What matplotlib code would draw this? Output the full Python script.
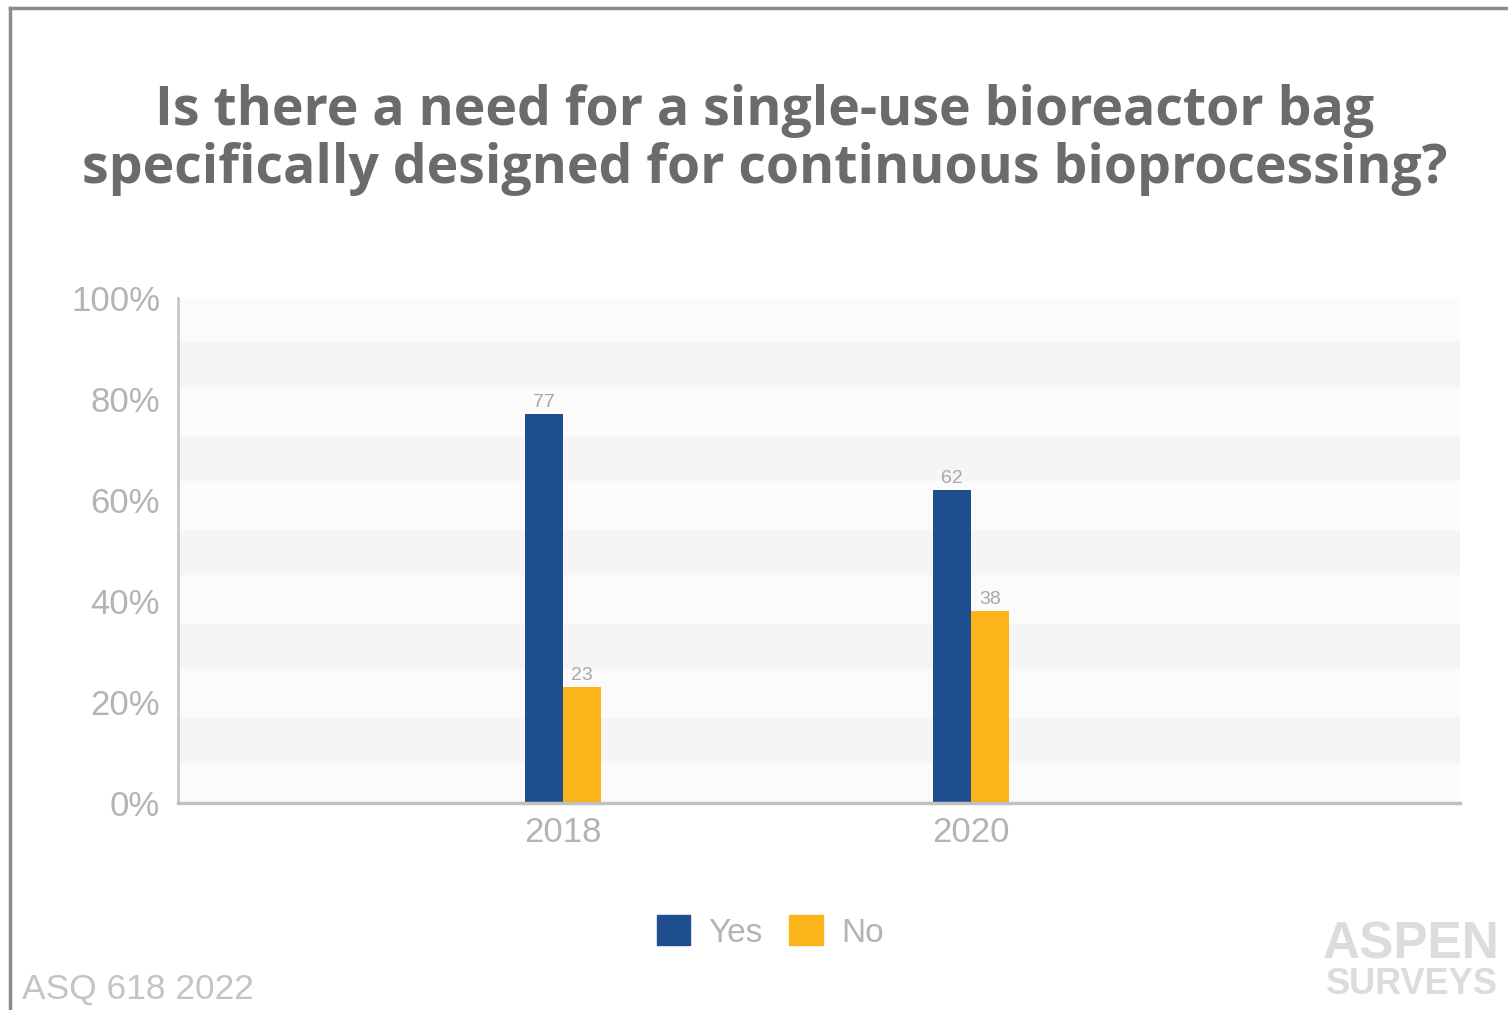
import numpy as np
import matplotlib.pyplot as plt
from matplotlib.patches import Patch
from matplotlib.lines import Line2D

# Survey answers, percent
years = ["2018", "2020"]
yes_pct = [77, 62]
no_pct = [23, 38]
yticks = [0, 20, 40, 60, 80, 100]

BLUE = "#1f4e8f"
YELLOW = "#fbb41a"
GRAY_TXT = "#b4b4b4"

plt.rcParams["font.family"] = ["Liberation Sans", "DejaVu Sans"]

fig = plt.figure(figsize=(15.08, 10.10), dpi=100)
ax = fig.add_axes([178 / 1508, 1 - 803 / 1010, (1460 - 178) / 1508, 505 / 1010])

# faint alternating background bands
for y0 in np.arange(7.9, 100, 18.6):
    ax.axhspan(y0, y0 + 9.0, color="#f5f5f5", zorder=0, lw=0)
ax.set_facecolor("#fbfbfb")

x = np.arange(len(years))
w = 0.093
b1 = ax.bar(x - w / 2, yes_pct, w, color=BLUE, label="Yes", zorder=2)
b2 = ax.bar(x + w / 2, no_pct, w, color=YELLOW, label="No", zorder=2)
for bars, vals in ((b1, yes_pct), (b2, no_pct)):
    for rect, v in zip(bars, vals):
        ax.text(rect.get_x() + rect.get_width() / 2, v + 0.6, str(v),
                ha="center", va="bottom", fontsize=14, color="#a8a8a8")

ax.set_xlim(-0.944, 2.199)
ax.set_ylim(0, 100)
ax.set_xticks(x)
ax.set_xticklabels(years)
ax.set_yticks(yticks)
ax.set_yticklabels([f"{t}%" for t in yticks])
ax.tick_params(axis="both", length=0, labelsize=25, labelcolor=GRAY_TXT)
ax.tick_params(axis="y", pad=13)
ax.tick_params(axis="x", pad=9)

for s in ("top", "right"):
    ax.spines[s].set_visible(False)
ax.spines["left"].set_color("#c8c8c8")
ax.spines["left"].set_linewidth(2)
ax.spines["bottom"].set_color("#c0c0c0")
ax.spines["bottom"].set_linewidth(2.5)

fig.text(765 / 1508, 1 - 140 / 1010,
         "Is there a need for a single-use bioreactor bag\n"
         "specifically designed for continuous bioprocessing?",
         ha="center", va="center", fontsize=38.6, fontweight="bold",
         color="#6b6b6e", family=["Open Sans", "DejaVu Sans"], linespacing=1.1)

handles = [Patch(color=BLUE, label="Yes"), Patch(color=YELLOW, label="No")]
fig.legend(handles=handles, loc="center", bbox_to_anchor=(770 / 1508, 1 - 932 / 1010),
           ncol=2, frameon=False, fontsize=24, labelcolor=GRAY_TXT,
           handlelength=1.0, handleheight=1.0, handletextpad=0.55, columnspacing=0.8)

fig.text(22 / 1508, 1 - 989 / 1010, "ASQ 618 2022", ha="left", va="center",
         fontsize=25.5, color="#c4c4c4")
fig.text(1500 / 1508, 1 - 945 / 1010, "ASPEN", ha="right", va="center",
         fontsize=37, fontweight="bold", color="#dcdcdc")
fig.text(1498 / 1508, 1 - 984 / 1010, "SURVEYS", ha="right", va="center",
         fontsize=26, fontweight="bold", color="#dcdcdc")

# outer frame (left and top edges)
fig.add_artist(Line2D([10 / 1508, 10 / 1508], [0, 1 - 8 / 1010],
                      transform=fig.transFigure, color="#8c8c8c", lw=2.5))
fig.add_artist(Line2D([10 / 1508, 1], [1 - 8 / 1010, 1 - 8 / 1010],
                      transform=fig.transFigure, color="#8c8c8c", lw=2.5))

plt.savefig("out.png")
plt.close()
